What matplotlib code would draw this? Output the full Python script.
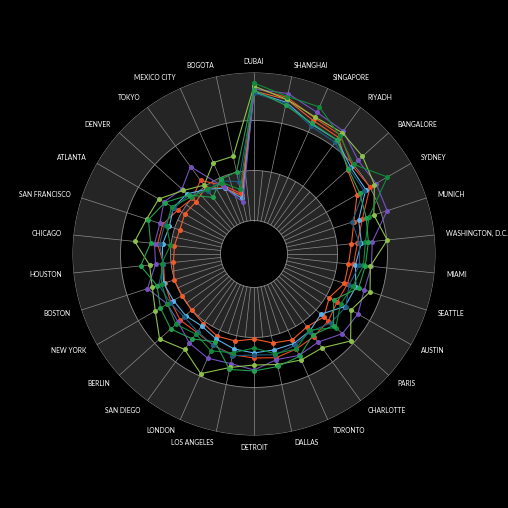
import numpy as np
import matplotlib
matplotlib.use("Agg")
import matplotlib.pyplot as plt

# =========================
# data
# =========================
cities = [
    "DUBAI", "SHANGHAI", "SINGAPORE", "RIYADH", "BANGALORE", "SYDNEY",
    "MUNICH", "WASHINGTON, D.C.", "MIAMI", "SEATTLE", "AUSTIN", "PARIS",
    "CHARLOTTE", "TORONTO", "DALLAS", "DETROIT", "LOS ANGELES", "LONDON",
    "SAN DIEGO", "BERLIN", "NEW YORK", "BOSTON", "HOUSTON", "CHICAGO",
    "SAN FRANCISCO", "ATLANTA", "DENVER", "TOKYO", "MEXICO CITY", "BOGOTA",
]

orange_a = [163, 158, 146, 144, 126, 119, 105, 98, 95, 95, 87, 94, 90, 94, 91,
            85, 89, 90, 86, 84, 83, 84, 81, 80, 78, 80, 78, 82, 72, 60]
orange_b = [166, 160, 149, 147, 132, 134, 114, 104, 100, 98, 96, 100, 102, 104, 106,
            104, 103, 100, 97, 99, 96, 94, 91, 97, 96, 88, 83, 91, 75, 62]
light_blue = [162, 155, 142, 141, 130, 129, 110, 108, 102, 107, 105, 90, 95, 98, 98,
              99, 97, 93, 89, 92, 93, 95, 92, 92, 89, 93, 90, 80, 72, 57]
dark_blue = [161, 154, 140, 138, 128, 127, 103, 106, 106, 100, 106, 103, 96, 100, 103,
             101, 104, 100, 96, 94, 97, 100, 91, 95, 94, 92, 88, 78, 80, 74]
purple = [165, 164, 155, 152, 140, 141, 140, 119, 118, 116, 120, 119, 109, 111, 108,
          116, 112, 114, 110, 102, 100, 112, 99, 100, 99, 104, 97, 108, 73, 53]
light_green = [168, 158, 150, 150, 146, 139, 126, 134, 117, 122, 112, 130, 116, 116, 113,
               111, 116, 131, 118, 127, 114, 107, 105, 120, 113, 110, 95, 85, 100, 100]
green_b = [171, 161, 161, 146, 134, 154, 121, 112, 110, 104, 100, 110, 94, 104, 102,
           94, 101, 106, 99, 105, 100, 97, 93, 84, 92, 95, 85, 80, 78, 66]
green_a = [164, 152, 143, 141, 127, 122, 118, 115, 112, 110, 92, 107, 100, 112, 115,
           117, 118, 96, 105, 112, 108, 102, 114, 104, 111, 103, 88, 70, 82, 84]

series = [orange_a, orange_b, light_blue, dark_blue, purple, light_green, green_b, green_a]
colors = ["#f15a29", "#ec4a25", "#5ab0e6", "#1e5c80", "#7451bf", "#8dc04a", "#118a3c", "#21a150"]

# =========================
# figure
# =========================
fig = plt.figure(figsize=(5.08, 5.08), dpi=100, facecolor="black")
ax = fig.add_axes([72.5 / 508, 72.5 / 508, 363 / 508, 363 / 508], projection="polar")
ax.set_facecolor("black")
ax.set_theta_zero_location("N")
ax.set_theta_direction(-1)
ax.set_ylim(0, 181.5)
ax.axis("off")

n = len(cities)
theta = np.arange(n) * 2 * np.pi / n
full = np.linspace(0, 2 * np.pi, 400)

# bands
band = "#252525"
ax.bar(0, 50, width=2 * np.pi, bottom=33.5, color=band, linewidth=0, zorder=0)
ax.bar(0, 48, width=2 * np.pi, bottom=133.5, color=band, linewidth=0, zorder=0)

# grid
gc = "#8c8c8c"
for r in [33.5, 83.5, 133.5, 181.5]:
    ax.plot(full, np.full_like(full, r), color=gc, lw=0.6, zorder=1)
for t in theta:
    ax.plot([t, t], [33.5, 181.5], color=gc, lw=0.5, zorder=1)
for t in theta + np.pi / n:
    ax.plot([t, t], [33.5, 83.5], color=gc, lw=0.5, zorder=1)

# series
for vals, c in zip(series, colors):
    ax.plot(np.append(theta, theta[0]), np.append(vals, vals[0]),
            color=c, lw=0.8, marker="o", markersize=3.6, markeredgewidth=0, zorder=3)

# labels
for t, name in zip(theta, cities):
    s = np.sin(t)
    if s > 0.05:
        ha = "left"
    elif s < -0.05:
        ha = "right"
    else:
        ha = "center"
    ax.text(t, 193, name, ha=ha, va="center", color="white",
            fontsize=4.8, family="Lato", clip_on=False)

fig.savefig("out.png", dpi=100, facecolor="black")
